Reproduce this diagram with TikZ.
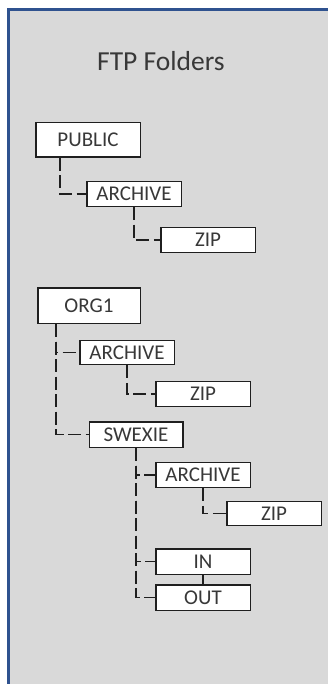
\documentclass[tikz,border=0pt]{standalone}
\usepackage{fontspec}
\setmainfont{Carlito}
\usetikzlibrary{calc}
\definecolor{panel}{HTML}{D9D9D9}
\definecolor{panelborder}{HTML}{2F528F}
\definecolor{boxline}{HTML}{1F1F1F}
\definecolor{txt}{HTML}{383838}
\begin{document}
\begin{tikzpicture}[x=1pt,y=-1pt,
  folder/.style={draw=boxline, fill=white, line width=1.5pt, inner sep=0pt,
    minimum width=94.5pt, minimum height=25pt,
    font=\fontsize{21}{23}\selectfont, text=txt},
  link/.style={draw=boxline, line width=1.6pt, dash pattern=on 13pt off 4.5pt},
  solidlink/.style={draw=boxline, line width=1.5pt}]
\useasboundingbox (0,0) rectangle (327,684);
\path[fill=panel, draw=panelborder, line width=2.5pt] (8.5,9.5) rectangle (340,700);

\node[text=txt, font=\fontsize{27.5}{30}\selectfont, anchor=base] (title) at (161,71) {FTP Folders};

\node[folder, minimum width=104.5pt, minimum height=34.5pt] (pub) at (88,140) {PUBLIC};
\node[folder] (arcA) at (134,194) {ARCHIVE};
\node[folder] (zipA) at (208,240) {ZIP};

\node[folder, minimum width=102.5pt, minimum height=35.5pt] (org) at (89,305.5) {ORG1};
\node[folder, minimum height=24pt] (arcB) at (127,352.5) {ARCHIVE};
\node[folder] (zipB) at (203,394) {ZIP};
\node[folder, minimum width=93.5pt, minimum height=25.5pt] (swx) at (136,434.5) {SWEXIE};
\node[folder] (arcC) at (203,475) {ARCHIVE};
\node[folder, minimum height=24pt] (zipC) at (274,513.5) {ZIP};
\node[folder, minimum height=25.5pt] (in) at (203,561.5) {IN};
\node[folder, minimum height=25.5pt] (out) at (203,597.5) {OUT};

\draw[link] ($(pub.south west)+(25,0)$) |- (arcA.west);
\draw[link] (arcA.south) |- (zipA.west);
\draw[link] ($(org.south west)+(19,0)$) |- (arcB.west);
\draw[link] ($(org.south west)+(19,0)$) |- (swx.west);
\draw[link] (arcB.south) |- (zipB.west);
\draw[link] (swx.south) |- (arcC.west);
\draw[link] (swx.south) |- (in.west);
\draw[link] (swx.south) |- (out.west);
\draw[link] (arcC.south) |- (zipC.west);
\draw[solidlink] (in.south) -- (out.north);
\end{tikzpicture}
\end{document}
